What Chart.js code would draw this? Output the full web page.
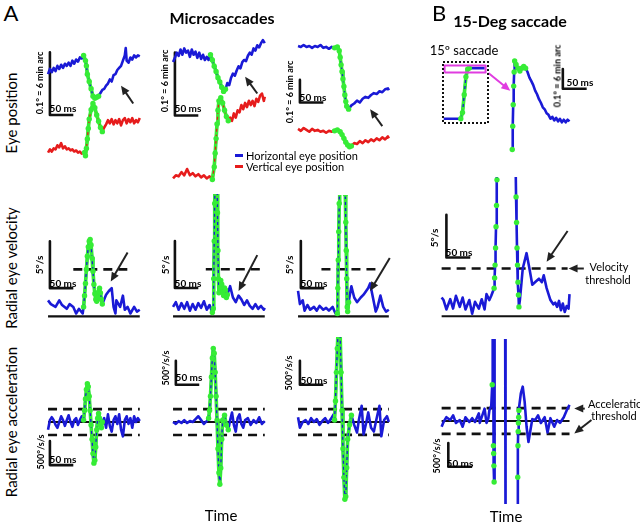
<!DOCTYPE html>
<html>
<head>
<meta charset="utf-8">
<script src="https://cdn.jsdelivr.net/npm/chart.js@4.4.1/dist/chart.umd.min.js"></script>
<style>
  body { margin: 0; background: #fff; }
  #fig { position: relative; width: 640px; height: 524px; overflow: hidden; font-family: Lato, "Open Sans", sans-serif; color: #000; }
  #fig canvas { position: absolute; }
  .t { position: absolute; white-space: nowrap; line-height: 1; transform: translate(-50%, -50%); }
  .r { transform: translate(-50%, -50%) rotate(-90deg); }
</style>
</head>
<body>
<div id="fig"></div>
<script>
// ---------- data (time in ms, position in arcmin, velocity in deg/s, acceleration in deg/s/s) ----------

// microsaccade 1
const ms1HorT = [0,4,8,12,16,20,24,28,32,36,40,44,48,52,56,60,64,68,72,76,80,82,84,88,92,96,100,104,108,112,116,120,124,128,132,136,140,144,148,152,156,160,164,166,168,172,176,180,184,188,192,196];
const ms1Hor  = [10.7,11.2,10.9,11.3,11.0,11.5,11.2,11.6,11.3,11.7,11.5,11.8,11.5,12.0,11.7,12.1,11.9,12.3,12.2,12.5,12.0,11.5,10.7,10.0,9.3,8.6,8.4,8.5,8.6,8.9,9.2,9.3,9.6,9.8,10.2,10.0,10.6,10.7,11.1,11.3,11.5,12.0,12.5,13.2,12.0,11.8,12.3,12.1,12.5,12.3,12.5,12.4];
const ms1VerT = [0,4,8,12,16,20,24,28,32,36,40,44,48,52,56,60,64,68,72,78,80,82,84,86,88,92,96,100,104,108,112,116,120,124,128,132,136,140,144,148,152,156,160,164,168,172,176,180,184,188,192,196];
const ms1Ver  = [3.2,3.5,3.3,3.6,3.5,3.9,3.7,4.1,3.6,3.8,3.5,3.6,3.4,3.5,3.3,3.4,3.2,3.3,3.1,3.2,2.9,3.6,4.5,5.5,6.4,7.3,7.9,7.5,6.8,6.2,5.6,5.2,5.6,5.9,6.3,6.0,6.4,5.9,6.3,6.0,6.4,5.8,6.3,6.5,6.0,6.4,6.1,6.5,6.0,6.3,6.1,6.5];
const ms1VelT = [0,6,16,24,30,40,46,54,60,66,74,76,78,80,82,84,86,88,90,92,94,96,98,100,102,104,106,108,110,112,114,116,124,130,136,140,144,146,154,160,164,170,176,184,190,196];
const ms1Vel  = [1.7,1.3,1.0,1.7,1.2,0.8,1.3,1.0,0.3,0.8,0.3,1.0,2.2,3.5,5.0,6.4,7.4,8.0,8.2,7.6,6.2,4.8,3.4,2.4,1.8,1.6,2.0,2.6,3.0,2.5,1.8,1.3,2.3,2.7,3.0,1.0,0.3,1.7,1.0,2.2,0.7,1.0,0.3,1.0,0.5,0.7];
const ms1AccT = [0,4,8,12,16,20,24,28,32,36,40,44,48,52,56,60,64,68,72,76,78,80,82,84,86,88,90,92,94,96,98,100,102,104,106,108,110,112,114,116,120,124,128,132,136,140,144,148,152,156,160,164,168,172,176,180,184,188,192,196];
const ms1Acc  = [-160,40,100,40,-60,-120,0,120,40,-80,40,140,0,-100,40,80,-60,40,120,40,240,480,680,800,740,540,240,-60,-360,-660,-860,-800,-520,-160,80,180,80,-60,-120,0,80,-120,160,-80,-200,40,120,-40,160,-160,-300,40,120,-40,80,-120,120,0,80,20];

// microsaccade 2
const ms2HorT = [0,4,8,12,16,20,24,28,32,36,40,44,48,52,56,60,64,68,72,76,80,84,88,92,96,100,104,108,112,116,120,124,128,132,136,140,144,148,152,156,160,164,168,172,176,180,184,188,192,196];
const ms2Hor  = [12.3,12.7,13.2,12.9,13.5,13.0,13.6,13.2,13.4,12.8,13.5,13.0,13.3,12.7,13.2,12.6,13.0,12.5,12.8,12.5,13.0,12.5,11.9,11.4,10.8,10.4,9.9,9.5,9.7,10.3,10.1,10.8,11.2,11.0,11.5,11.9,11.7,12.3,12.5,12.4,12.9,13.2,13.0,13.6,13.4,13.9,13.7,14.1,14.4,14.1];
const ms2VerT = [0,6,12,18,24,30,36,42,48,54,60,66,72,78,84,88,90,92,94,96,98,102,106,110,114,118,122,126,130,134,138,142,146,150,154,158,162,166,170,174,178,182,186,190,194,196];
const ms2Ver  = [1.2,1.5,1.4,1.8,1.5,2.1,1.5,1.7,1.4,1.6,1.3,1.5,1.2,1.4,1.1,2.3,3.6,5.0,6.4,7.7,8.6,8.9,8.4,7.7,7.1,6.7,7.0,6.7,7.4,7.0,7.7,7.5,8.2,7.8,8.4,8.0,8.6,8.2,8.6,8.1,8.8,8.5,9.1,9.3,8.6,9.0];
const ms2VelT = [0,6,12,18,24,30,36,42,48,54,60,66,72,78,84,86,87,88,89,90,92,94,95,96,97,98,100,102,104,106,108,110,112,114,116,122,128,134,140,146,152,158,164,170,176,182,188,194,196];
const ms2Vel  = [1.0,1.5,0.7,1.4,0.8,1.5,0.6,1.3,0.7,1.4,0.9,1.6,0.7,1.2,0.4,0.8,4,8,12,15,17,15,11,7,4,2.5,3.0,3.8,3.4,2.6,2.2,3.0,2.8,2.0,2.3,3.2,2.0,1.5,2.2,1.8,1.2,1.7,1.1,0.8,1.3,0.8,1.1,0.7,0.9];
const ms2AccT = [0,6,12,18,24,30,36,42,48,54,60,66,72,76,78,80,82,84,86,88,90,92,94,96,98,100,102,104,106,110,114,118,122,126,130,134,138,142,146,150,154,160,166,172,178,184,190,196];
const ms2Acc  = [0,-40,20,-20,40,-20,20,0,60,120,40,-40,20,80,240,540,940,1340,1540,1440,1040,540,40,-560,-1060,-1300,-960,-360,40,140,-60,-160,40,200,-60,-200,80,160,-40,-120,40,80,-60,40,-20,100,-40,20];

// microsaccade 3
const ms3HorT = [0,6,12,18,24,30,36,42,48,54,60,66,72,78,84,88,90,92,94,96,98,100,102,104,108,114,120,126,132,138,144,150,156,162,168,174,180,186,192,194];
const ms3Hor  = [30.5,30.25,30.75,30.25,30.5,30,30.5,30.25,30.75,30,30.25,29.75,30.25,30.0,30.25,29.25,27.5,25.5,23.75,21.75,19.75,17.5,15.75,14.5,13.75,14.75,15.25,16,15.5,16.5,17,16.75,17.5,18,17.75,18.5,18.25,19,19.25,18.75];
const ms3VerT = [0,6,12,18,24,30,36,42,48,54,60,66,72,78,84,90,94,98,102,106,110,114,120,126,132,138,144,150,156,162,168,174,180,186,192,194];
const ms3Ver  = [8.5,8.0,8.75,8.25,7.75,8.5,8.0,8.25,7.75,8.0,7.5,8.0,7.75,8.0,8.25,7.75,7.0,6.0,5.0,4.25,3.75,4.0,4.75,4.5,5.25,4.75,5.5,5.0,5.75,5.25,6.0,5.5,6.25,5.75,6.5,6.0];
const ms3VelT = [0,4,10,14,20,26,34,40,46,54,60,66,74,80,84,85,86,87,88,89,92,96,99,100,101,102,103,104,105,106,108,114,120,126,134,140,150,154,160,166,170,176,182,188,194];
const ms3Vel  = [2.7,1.3,1.7,0.6,1.2,0.7,1.0,0.6,1.1,0.7,0.9,0.6,1.0,0.3,0.3,3,6,9,12,16,24,26,22,17,13,10,7,4,1,0.5,1.5,3.2,2.0,1.5,2.0,2.3,3.0,3.5,2.0,0.5,1.0,2.2,1.0,0.5,0.7];
const ms3AccT = [0,4,10,16,22,28,34,40,46,52,58,64,70,76,78,80,82,84,86,88,90,92,94,96,98,100,102,104,106,110,114,120,126,130,136,140,146,150,156,162,168,174,178,184,190,194];
const ms3Acc  = [100,-120,0,40,-40,80,0,60,-60,20,80,-20,60,160,40,440,1040,1540,2040,2440,1840,1040,240,-560,-1160,-1620,-1560,-960,-360,-60,140,-60,-220,40,340,-260,0,200,-120,-200,80,340,-300,40,120,0];

// 15-deg saccade (top of the trace, zoomed) and the whole saccade in the inset
const sacPosT = [148,149,150,151,152,153,156,160,164,168,172,176,180,184,188,192,196,200,204,208,212,216,220,224,228,232,236,240,244,248,252,256,260,264,268];
const sacPos  = [2.0,9.1,15.7,21.4,25.7,29.1,28.0,26.9,26.0,26.9,27.4,26.9,25.7,24,22.9,21.7,20,18.9,17.4,16.3,14.9,14.3,13.1,12.6,11.4,12,10.9,11.7,10.6,11.4,10.3,11.1,10.3,11.1,10.6];
const insetT   = [4,14,24,34,44,48,52,56,60,64,74,84,94,100];
const insetDeg = [0,0,0,0,0,1.8,7.1,12.4,14.7,15,15,15,15,15];
const zoomWinT = [6, 102];
const zoomWinDeg = [13.7, 15.8];
const sacVelT = [0,4,10,18,24,30,38,44,50,58,64,70,78,84,90,94,100,104,108,110,111,112,113,114,115,116,118,125,135,145,152,155,156,157,158,159,160,161,162,164,170,178,184,190,198,204,210,214,220,228,234,238,242,246,250,254,258,262,266,268];
const sacVel  = [2.2,1.9,0.8,2.0,0.9,2.4,1.1,2.2,0.8,1.9,0.3,1.7,0.9,2.0,0.8,2.6,1.9,2.4,3.0,3.3,4.5,6,8,10.5,13,16,30,200,300,200,30,18,14,11,8,6,4,2.5,1.1,1.9,5.6,7.4,5.6,3.7,4.1,4.4,4.0,4.8,3.3,1.9,1.4,1.6,1.1,1.8,0.7,1.5,0.5,1.2,0.9,2.6];
const sacAccT = [0,4,10,18,24,30,38,44,50,58,64,70,78,80,84,90,94,98,100,104,106,107,108,108.5,109,109.5,110,111,112,120,130,133,134,135,145,155,159,159.5,160,160.5,161,161.5,162,166,170,174,178,182,186,190,196,202,208,216,222,228,236,242,248,256,262,268];
const sacAcc  = [-120,-20,80,20,120,-40,20,-120,80,-20,60,-20,160,-40,80,260,-40,60,220,320,760,4000,2000,-520,-680,-940,-1280,3000,4000,6000,4000,3000,-3000,-4000,-6000,-4000,-2500,-1180,-520,-220,-40,80,220,580,720,400,-120,-440,-200,40,20,120,-40,80,-240,60,-120,20,-40,80,220,340];

// saccade windows (ms) marked in green
const ms1Sac = { hor: [76,108], ver: [78,116], vel: [76,116], acc: [76,116] };
const ms2Sac = { hor: [80,112], ver: [84,118], vel: [84,116], acc: [76,118] };
const ms3Sac = { hor: [78,108], ver: [78,114], vel: [84,108], acc: [78,114] };
const bigSac = { pos: [148,176], inset: [44,64], vel: [110,162], acc: [106,162] };

// detection thresholds
const velThr = [5.0, 5.0, 5.0, 5.6];   // deg/s
const accThr = 270;                    // deg/s/s

// ---------- drawing ----------
const BLUE = '#1a1ad6', RED = '#e61c1c', GREEN = '#36ec36', MAG = '#e03ce0', INK = '#111';
const fig = document.getElementById('fig');

function pts(ts, vs) { return ts.map((t, i) => ({ x: t, y: vs[i] })); }

// dotsOnly: sparse samples of the big saccade get green dots, no green band
function trace(ts, vs, color, win, dotsOnly) {
  const all = pts(ts, vs);
  const sac = all.filter(p => p.x >= win[0] && p.x <= win[1]);
  const sets = [
    { data: all, borderColor: color, borderWidth: 2.6, order: 4 },
    { data: sac, showLine: false, pointRadius: 2.7, pointBackgroundColor: GREEN, pointBorderWidth: 0, order: 1 }
  ];
  if (!dotsOnly) {
    sets.push({ data: sac, borderColor: GREEN, borderWidth: 3.6, order: 3 });
    sets.push({ data: sac, borderColor: color, borderWidth: 1.3, borderDash: [3, 3], order: 2 });
  }
  return sets;
}

function hline(v, range, dashed) {
  return { data: [{ x: range[0], y: v }, { x: range[1], y: v }], borderColor: INK,
           borderWidth: dashed ? 2.6 : 2.2, borderDash: dashed ? [9, 6] : [], order: 6 };
}

function scaleBar(t0, v0, dt, dv) {
  return { data: [{ x: t0, y: v0 + dv }, { x: t0, y: v0 }, { x: t0 + dt, y: v0 }],
           borderColor: INK, borderWidth: 2.6, order: 6 };
}

function arrowPlugin(list) {
  return {
    id: 'arrows',
    afterDatasetsDraw(chart) {
      const { ctx, scales: { x, y } } = chart;
      list.forEach(a => {
        const x1 = x.getPixelForValue(a[0]), y1 = y.getPixelForValue(a[1]);
        const x2 = x.getPixelForValue(a[2]), y2 = y.getPixelForValue(a[3]);
        const col = a[4] || '#222';
        const ang = Math.atan2(y2 - y1, x2 - x1), hl = 9, hw = 4;
        ctx.save();
        ctx.strokeStyle = col; ctx.fillStyle = col; ctx.lineWidth = 2;
        ctx.beginPath();
        ctx.moveTo(x1, y1);
        ctx.lineTo(x2 - Math.cos(ang) * hl * 0.8, y2 - Math.sin(ang) * hl * 0.8);
        ctx.stroke();
        ctx.beginPath();
        ctx.moveTo(x2, y2);
        ctx.lineTo(x2 - hl * Math.cos(ang) + hw * Math.sin(ang), y2 - hl * Math.sin(ang) - hw * Math.cos(ang));
        ctx.lineTo(x2 - hl * Math.cos(ang) - hw * Math.sin(ang), y2 - hl * Math.sin(ang) + hw * Math.cos(ang));
        ctx.closePath();
        ctx.fill();
        ctx.restore();
      });
    }
  };
}

const dottedFrame = {
  id: 'frame',
  afterDraw(chart) {
    const { ctx, chartArea: a } = chart;
    ctx.save();
    ctx.strokeStyle = INK; ctx.lineWidth = 2; ctx.setLineDash([2, 2]);
    ctx.strokeRect(a.left + 1, a.top + 1, a.right - a.left - 2, a.bottom - a.top - 2);
    ctx.restore();
  }
};

// box = [left, top, w, h] in px, origin = px of (0,0), k = px per unit
function panel(box, origin, k, datasets, arrows, extra) {
  const [left, top, w, h] = box;
  const c = document.createElement('canvas');
  c.width = w; c.height = h;
  c.style.left = left + 'px'; c.style.top = top + 'px';
  c.style.width = w + 'px'; c.style.height = h + 'px';
  fig.appendChild(c);
  new Chart(c, {
    type: 'line',
    data: { datasets },
    options: {
      responsive: false, animation: false, events: [],
      plugins: { legend: { display: false }, tooltip: { enabled: false } },
      elements: { point: { radius: 0 }, line: { tension: 0, borderJoinStyle: 'round' } },
      scales: {
        x: { type: 'linear', display: false, min: (left - origin[0]) / k[0], max: (left + w - origin[0]) / k[0] },
        y: { type: 'linear', display: false, min: (origin[1] - top - h) / k[1], max: (origin[1] - top) / k[1] }
      }
    },
    plugins: [arrowPlugin(arrows || [])].concat(extra || [])
  });
}

function label(txt, cx, cy, size, o = {}) {
  const d = document.createElement('div');
  d.className = 't' + (o.rot ? ' r' : '');
  d.textContent = txt;
  d.style.left = cx + 'px'; d.style.top = cy + 'px';
  d.style.fontSize = size + 'px';
  if (o.bold) d.style.fontWeight = 'bold';
  if (o.left) d.style.transform = 'translate(0, -50%)';
  fig.appendChild(d);
}

// row 1: eye position
panel([30, 30, 125, 160], [45, 190], [0.5, 11], [
  ...trace(ms1HorT, ms1Hor, BLUE, ms1Sac.hor), ...trace(ms1VerT, ms1Ver, RED, ms1Sac.ver),
  scaleBar(4, 6.8, 50, 6)
], [[182, 7.9, 156, 9.6]]);
panel([155, 25, 125, 170], [170, 195], [0.5, 11], [
  ...trace(ms2HorT, ms2Hor, BLUE, ms2Sac.hor), ...trace(ms2VerT, ms2Ver, RED, ms2Sac.ver),
  scaleBar(4, 7.2, 50, 6)
], [[180, 9.3, 154, 10.9]]);
panel([280, 25, 125, 140], [295, 165], [0.5, 4], [
  ...trace(ms3HorT, ms3Hor, BLUE, ms3Sac.hor), ...trace(ms3VerT, ms3Ver, RED, ms3Sac.ver),
  scaleBar(4, 15.5, 50, 6)
], [[180, 9.25, 154, 13.75]]);
panel([430, 40, 175, 120], [438, 160], [0.5, 3.5], [
  ...trace(sacPosT, sacPos, BLUE, bigSac.pos, true),
  scaleBar(254, 20.6, 50, 6)
], [[98, 25.4, 144, 20, MAG]]);
panel([438, 57, 55, 71], [438, 122], [0.5, 3.8], [
  ...trace(insetT, insetDeg, BLUE, bigSac.inset),
  { data: pts([zoomWinT[0], zoomWinT[0], zoomWinT[1], zoomWinT[1], zoomWinT[0]],
              [zoomWinDeg[0], zoomWinDeg[1], zoomWinDeg[1], zoomWinDeg[0], zoomWinDeg[0]]),
    borderColor: MAG, borderWidth: 2, order: 0 }
], [], [dottedFrame]);

// row 2: radial eye velocity
panel([30, 195, 125, 130], [45, 320], [0.5, 10], [
  ...trace(ms1VelT, ms1Vel, BLUE, ms1Sac.vel),
  hline(0, [0, 196]), hline(velThr[0], [54, 170], true), scaleBar(4, 3.0, 50, 5)
], [[170, 6.8, 134, 3.7]]);
panel([155, 190, 125, 135], [170, 320], [0.5, 10], [
  ...trace(ms2VelT, ms2Vel, BLUE, ms2Sac.vel),
  hline(0, [0, 196]), hline(velThr[1], [70, 194], true), scaleBar(4, 3.0, 50, 5)
], [[180, 6.5, 140, 2.7]]);
panel([280, 191, 125, 134], [295, 320], [0.5, 10], [
  ...trace(ms3VelT, ms3Vel, BLUE, ms3Sac.vel),
  hline(0, [0, 194]), hline(velThr[2], [50, 174], true), scaleBar(6, 3.0, 50, 5)
], [[196, 6.2, 154, 2.7]]);
panel([430, 173, 175, 152], [438, 320], [0.5, 9], [
  ...trace(sacVelT, sacVel, BLUE, bigSac.vel, true),
  hline(0, [0, 268]), hline(velThr[3], [0, 264], true), scaleBar(10, 6.9, 50, 5)
], [[264, 10, 220, 6.4], [298, 5.6, 266, 5.6]]);

// row 3: radial eye acceleration
panel([30, 330, 125, 185], [45, 422], [0.5, 0.05], [
  ...trace(ms1AccT, ms1Acc, BLUE, ms1Sac.acc),
  hline(0, [0, 196]), hline(accThr, [0, 196], true), hline(-accThr, [0, 196], true),
  scaleBar(4, -900, 50, 500)
]);
panel([155, 330, 125, 185], [170, 422], [0.5, 0.05], [
  ...trace(ms2AccT, ms2Acc, BLUE, ms2Sac.acc),
  hline(0, [0, 196]), hline(accThr, [0, 196], true), hline(-accThr, [0, 196], true),
  scaleBar(6, 780, 50, 500)
]);
panel([280, 333, 125, 177], [295, 422], [0.5, 0.05], [
  ...trace(ms3AccT, ms3Acc, BLUE, ms3Sac.acc),
  hline(0, [0, 194]), hline(accThr, [0, 194], true), hline(-accThr, [0, 194], true),
  scaleBar(4, 780, 50, 500)
]);
panel([430, 335, 175, 173], [438, 421], [0.5, 0.05], [
  ...trace(sacAccT, sacAcc, BLUE, bigSac.acc, true),
  hline(0, [0, 268]), hline(accThr, [0, 268], true), hline(-accThr, [0, 268], true),
  scaleBar(14, -960, 50, 500)
], [[300, 260, 278, 260], [314, 20, 278, -260]]);

// ---------- text ----------
label('A', 11, 13, 22);
label('Microsaccades', 222, 18, 16, { bold: true });
label('B', 439, 13, 22);
label('15-Deg saccade', 510, 21, 16, { bold: true });
label('Eye position', 11, 113, 15, { rot: true });
label('Radial eye velocity', 11, 268, 15, { rot: true });
label('Radial eye acceleration', 11, 422, 15, { rot: true });
label('Time', 221, 515, 15);
label('Time', 506, 516, 15);
label('15º saccade', 464, 50, 13);

// legend
[['Horizontal eye position', BLUE, 155], ['Vertical eye position', RED, 166]].forEach(([txt, col, y]) => {
  const k = document.createElement('div');
  k.style.cssText = `position:absolute;left:235px;top:${y - 1.5}px;width:8px;height:3px;background:${col}`;
  fig.appendChild(k);
  label(txt, 246, y, 11, { left: true });
});

// scale bar labels
const posLbl = '0.1° = 6 min arc';
label('50 ms', 63, 108, 10, { bold: true });  label(posLbl, 39, 83, 9, { rot: true, bold: true });
label('50 ms', 188, 108, 10, { bold: true }); label(posLbl, 164, 81, 9, { rot: true, bold: true });
label('50 ms', 313, 97, 10, { bold: true });  label(posLbl, 289, 92, 9, { rot: true, bold: true });
label('50 ms', 580, 82, 10, { bold: true });  label(posLbl, 557, 76, 9, { rot: true, bold: true });
label('50 ms', 63, 283, 10, { bold: true });  label('5°/s', 39, 265, 10, { rot: true, bold: true });
label('50 ms', 188, 283, 10, { bold: true }); label('5°/s', 165, 265, 10, { rot: true, bold: true });
label('50 ms', 314, 283, 10, { bold: true }); label('5°/s', 289, 265, 10, { rot: true, bold: true });
label('50 ms', 459, 252, 10, { bold: true }); label('5°/s', 434, 238, 10, { rot: true, bold: true });
label('50 ms', 63, 459, 10, { bold: true });  label('500°/s/s', 40, 452, 9, { rot: true, bold: true });
label('50 ms', 189, 377, 10, { bold: true }); label('500°/s/s', 165, 368, 9, { rot: true, bold: true });
label('50 ms', 314, 380, 10, { bold: true }); label('500°/s/s', 288, 373, 9, { rot: true, bold: true });
label('50 ms', 460, 463, 10, { bold: true }); label('500°/s/s', 436, 456, 9, { rot: true, bold: true });

label('Velocity', 609, 266, 11);
label('threshold', 608, 279, 11);
label('Acceleration', 588, 403, 11, { left: true });
label('threshold', 614, 415, 11);
</script>
</body>
</html>
